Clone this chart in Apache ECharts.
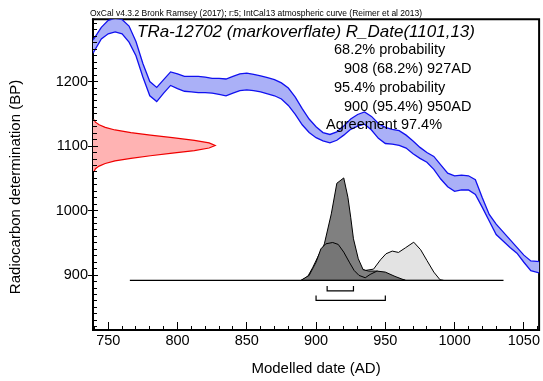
<!DOCTYPE html>
<html>
<head>
<meta charset="utf-8">
<script src="https://cdn.jsdelivr.net/npm/echarts@6/dist/echarts.min.js"></script>
<style>
  html, body { margin: 0; padding: 0; background: #fff; }
  #chart { width: 543px; height: 381px; }
</style>
</head>
<body>
<div id="chart"></div>
<script>
// calibration curve (IntCal13) band, BP
const CURVE_YEAR = [739, 745, 750, 755, 760, 765, 770, 775, 780, 785, 790, 795, 800, 805, 810, 815, 820, 825, 830, 835,
  840, 845, 850, 855, 860, 865, 870, 875, 880, 885, 890, 895, 900, 905, 910, 915, 920, 925, 930, 935,
  940, 945, 950, 955, 960, 965, 970, 975, 980, 985, 990, 995, 1000, 1005, 1010, 1015, 1020, 1025, 1030, 1035,
  1040, 1045, 1050, 1055, 1062];
const CURVE_UPPER = [1264, 1284, 1295, 1298, 1296, 1286, 1262, 1228, 1200, 1191, 1203, 1215, 1212, 1208, 1208, 1208, 1207, 1205, 1205, 1204,
  1208, 1212, 1213, 1211, 1209, 1206, 1203, 1198, 1190, 1176, 1158, 1142, 1130, 1121, 1118, 1122, 1131, 1142, 1149, 1153,
  1146, 1135, 1129, 1126, 1124, 1117, 1108, 1098, 1090, 1084, 1071, 1058, 1054, 1055, 1054, 1048, 1020, 994, 979, 967,
  955, 943, 931, 922, 921];
const CURVE_LOWER = [1244, 1266, 1274, 1277, 1274, 1261, 1240, 1207, 1178, 1169, 1182, 1194, 1189, 1185, 1184, 1183, 1183, 1182, 1180, 1178,
  1182, 1186, 1187, 1186, 1184, 1181, 1178, 1173, 1163, 1149, 1133, 1121, 1113, 1108, 1105, 1109, 1117, 1126, 1131, 1134,
  1125, 1112, 1104, 1103, 1101, 1097, 1088, 1081, 1075, 1064, 1049, 1037, 1030, 1032, 1032, 1025, 1005, 984, 963, 953,
  943, 934, 920, 907, 903];

// radiocarbon likelihood R_Date(1101,13), relative density
const LIK_BP = [1141, 1137, 1133, 1129, 1125, 1121, 1117, 1113, 1109, 1105, 1101, 1097, 1093, 1089, 1085, 1081, 1077, 1073, 1069, 1065, 1061];
const LIK_P = [0.01, 0.02, 0.05, 0.10, 0.18, 0.31, 0.47, 0.65, 0.83, 0.95, 1.00, 0.95, 0.83, 0.65, 0.47, 0.31, 0.18, 0.10, 0.05, 0.02, 0.01];

// calibrated distributions (relative probability)
const UNMOD_YEAR = [889.5, 894, 897.5, 901, 904.5, 909.5, 915.5, 921.5, 928.5, 935.5, 941.5, 946.5, 950.5, 955, 959.5, 964.5, 970.5, 975.5, 980, 985, 989.5, 992];
const UNMOD_P = [0, 0.039, 0.123, 0.221, 0.318, 0.373, 0.373, 0.276, 0.146, 0.097, 0.110, 0.201, 0.260, 0.286, 0.273, 0.318, 0.373, 0.299, 0.195, 0.081, 0.006, 0];
const POST_YEAR = [893, 900, 906, 911, 915, 920, 923, 925, 927, 930.5, 934, 938, 944, 951, 958.5, 964.5];
const POST_P = [0, 0.146, 0.357, 0.649, 0.948, 1.0, 0.811, 0.617, 0.406, 0.211, 0.104, 0.091, 0.091, 0.058, 0.016, 0];
const ALT_YEAR = [889, 895, 900, 903.5, 907, 912, 916, 920, 924, 927.5, 931, 935.5, 939, 944, 950, 957, 964.5];
const ALT_P = [0, 0.049, 0.178, 0.308, 0.357, 0.370, 0.351, 0.276, 0.178, 0.097, 0.049, 0.026, 0.058, 0.091, 0.081, 0.039, 0];

const PLOT_RANGE = [765.6, 1035.3];
const RANGES = [[908, 927], [900, 950]];

const X_TICKS = [750, 800, 850, 900, 950, 1000, 1050];
const Y_TICKS = [900, 1000, 1100, 1200];
const X_MINOR = [];
for (let v = 740; v <= 1060; v += 10) X_MINOR.push(v);
const Y_MINOR = [];
for (let v = 820; v <= 1290; v += 10) Y_MINOR.push(v);

const FONT = 'Liberation Sans, Arial, sans-serif';
const X_MIN = 739, X_MAX = 1061;
const Y_MIN = 815, Y_MAX = 1296.5;

const chart = echarts.init(document.getElementById('chart'), null, { renderer: 'canvas' });

function clipRect(params) {
  const c = params.coordSys;
  return { type: 'rect', shape: { x: c.x, y: c.y, width: c.width, height: c.height } };
}

function bandItem(params, api) {
  const up = CURVE_YEAR.map((x, i) => api.coord([x, CURVE_UPPER[i]]));
  const lo = CURVE_YEAR.map((x, i) => api.coord([x, CURVE_LOWER[i]]));
  return {
    type: 'group',
    clipPath: clipRect(params),
    children: [
      { type: 'polygon', shape: { points: up.concat(lo.slice().reverse()) }, style: { fill: '#aab0f7' } },
      { type: 'polyline', shape: { points: up }, style: { stroke: '#1010f0', lineWidth: 1.3, fill: null } },
      { type: 'polyline', shape: { points: lo }, style: { stroke: '#1010f0', lineWidth: 1.3, fill: null } }
    ]
  };
}

function likItem(params, api) {
  const pts = LIK_BP.map((y, i) => api.coord([LIK_P[i], y]));
  const base = [api.coord([0, LIK_BP[LIK_BP.length - 1]]), api.coord([0, LIK_BP[0]])];
  return {
    type: 'group',
    children: [
      { type: 'polygon', shape: { points: pts.concat(base) }, style: { fill: '#ffb3b3' } },
      { type: 'polyline', shape: { points: pts }, style: { stroke: '#f00000', lineWidth: 1.2, fill: null } }
    ]
  };
}

function distItem(xs, ps, fill) {
  return function (params, api) {
    const pts = xs.map((x, i) => api.coord([x, ps[i]]));
    return {
      type: 'polygon',
      shape: { points: pts },
      style: { fill: fill, stroke: '#000', lineWidth: 1 }
    };
  };
}

function bracketItem(params, api) {
  const s = api.value(0), e = api.value(1), lvl = api.value(2);
  const a = api.coord([s, 0]);
  const b = api.coord([e, 0]);
  const y = a[1] + 1 + lvl * 9.5;
  const t = 5;
  return {
    type: 'polyline',
    shape: { points: [[a[0], y - t], [a[0], y], [b[0], y], [b[0], y - t]] },
    style: { stroke: '#000', lineWidth: 1.2, fill: null }
  };
}

// OxCal style ticks: x ticks point up inside, y major ticks cross the axis
function tickItem(params, api) {
  const c = params.coordSys;
  const bottom = Math.round(c.y + c.height), left = Math.round(c.x);
  const vTick = (x, len) => ({
    type: 'rect', shape: { x: Math.floor(x), y: bottom - len, width: 1, height: len }, style: { fill: '#000' }
  });
  const hTick = (y, x0, len) => ({
    type: 'rect', shape: { x: x0, y: Math.floor(y), width: len, height: 1 }, style: { fill: '#000' }
  });
  const kids = [];
  X_MINOR.forEach(v => kids.push(vTick(api.coord([v, Y_MIN])[0], 4)));
  X_TICKS.forEach(v => kids.push(vTick(api.coord([v, Y_MIN])[0], 8)));
  Y_MINOR.forEach(v => kids.push(hTick(api.coord([X_MIN, v])[1], left, 4)));
  Y_TICKS.forEach(v => kids.push(hTick(api.coord([X_MIN, v])[1], left - 5, 10)));
  return { type: 'group', children: kids };
}

const textStyle = (txt, x, y, size, extra) => ({
  type: 'text', x: x, y: y, z: 100,
  style: Object.assign({ text: txt, fill: '#000', font: size + 'px ' + FONT, textVerticalAlign: 'middle' }, extra || {})
});

const plain = v => String(v);

const option = {
  animation: false,
  grid: {
    left: 93, right: 2, top: 19.3, bottom: 50.3, containLabel: false,
    show: true, borderColor: '#000', borderWidth: 2
  },
  xAxis: [
    {
      type: 'value', min: X_MIN, max: X_MAX, position: 'bottom',
      axisLine: { show: true, onZero: false, lineStyle: { color: '#000', width: 2 } },
      axisTick: { show: false },
      axisLabel: { customValues: X_TICKS, formatter: plain, color: '#000', fontSize: 14.5, fontFamily: FONT, margin: 3 },
      splitLine: { show: false },
      name: 'Modelled date (AD)', nameLocation: 'middle', nameGap: 31,
      nameTextStyle: { color: '#000', fontSize: 15, fontFamily: FONT }
    },
    { type: 'value', min: 0, max: 3.651, show: false, axisLine: { onZero: false } }
  ],
  yAxis: [
    {
      type: 'value', min: Y_MIN, max: Y_MAX, position: 'left',
      axisLine: { show: true, onZero: false, lineStyle: { color: '#000', width: 2 } },
      axisTick: { show: false },
      axisLabel: { customValues: Y_TICKS, formatter: plain, color: '#000', fontSize: 14.5, fontFamily: FONT, margin: 5 },
      splitLine: { show: false }
    },
    { type: 'value', min: -0.484, max: 2.548, show: false, axisLine: { onZero: false } }
  ],
  graphic: [
    textStyle('OxCal v4.3.2 Bronk Ramsey (2017); r:5; IntCal13 atmospheric curve (Reimer et al 2013)', 90, 14, 8.5),
    textStyle('TRa-12702 (markoverflate) R_Date(1101,13)', 137, 32, 17, { font: 'italic 17px ' + FONT }),
    textStyle('68.2% probability', 334, 50, 14.5),
    textStyle('908 (68.2%) 927AD', 344, 69, 14.5),
    textStyle('95.4% probability', 334, 88, 14.5),
    textStyle('900 (95.4%) 950AD', 344, 106.5, 14.5),
    textStyle('Agreement 97.4%', 326, 125, 14.5),
    {
      type: 'text', x: 16, y: 187, rotation: Math.PI / 2, z: 100,
      style: { text: 'Radiocarbon determination (BP)', fill: '#000', font: '15px ' + FONT, textAlign: 'center', textVerticalAlign: 'middle' }
    }
  ],
  series: [
    { type: 'custom', name: 'IntCal13', xAxisIndex: 0, yAxisIndex: 0, data: [0], renderItem: bandItem, silent: true },
    { type: 'custom', name: 'R_Date', xAxisIndex: 1, yAxisIndex: 0, data: [0], renderItem: likItem, silent: true },
    { type: 'custom', name: 'unmodelled', xAxisIndex: 0, yAxisIndex: 1, data: [0], renderItem: distItem(UNMOD_YEAR, UNMOD_P, '#e3e3e3'), silent: true },
    { type: 'custom', name: 'posterior', xAxisIndex: 0, yAxisIndex: 1, data: [0], renderItem: distItem(POST_YEAR, POST_P, '#808080'), silent: true },
    { type: 'custom', name: 'posterior2', xAxisIndex: 0, yAxisIndex: 1, data: [0], renderItem: distItem(ALT_YEAR, ALT_P, '#767676'), silent: true },
    {
      type: 'line', xAxisIndex: 0, yAxisIndex: 1, symbol: 'none', silent: true,
      data: [[PLOT_RANGE[0], 0], [PLOT_RANGE[1], 0]],
      lineStyle: { color: '#000', width: 1.3 }
    },
    {
      type: 'custom', xAxisIndex: 0, yAxisIndex: 1, silent: true,
      data: RANGES.map((r, i) => [r[0], r[1], i + 1]),
      renderItem: bracketItem
    },
    { type: 'custom', name: 'ticks', xAxisIndex: 0, yAxisIndex: 0, data: [0], renderItem: tickItem, silent: true, z: 10 }
  ]
};

chart.setOption(option);
</script>
</body>
</html>
